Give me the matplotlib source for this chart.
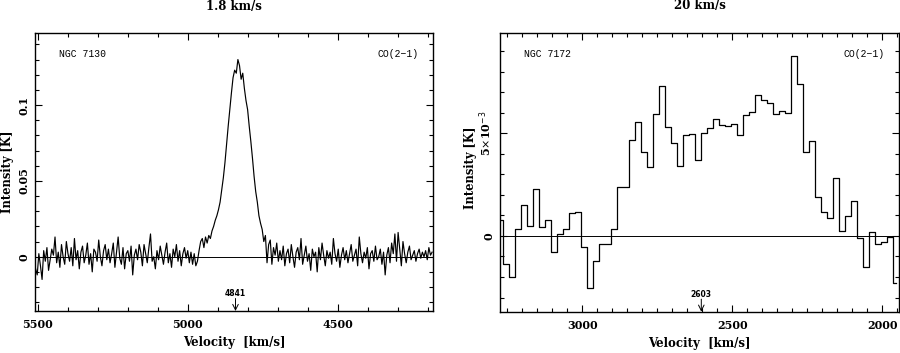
import numpy as np
import matplotlib
matplotlib.use("Agg")
import matplotlib.pyplot as plt
from matplotlib.ticker import MultipleLocator, FixedLocator, FixedFormatter

# ---------------- data ----------------
# NGC 7130, CO(2-1): intensity in mK, sampled every 5.4 km/s from 5508 km/s downward
v7130_start = 5508.0
v7130_step = -5.4
t7130_mK = [
    -8, -12, 2, -6, -15, 4, -3, 6, -9, -2,
    5, 1, 13, -4, 3, -7, 8, 0, -5, 10,
    2, -3, 6, -6, 12, -2, 4, -8, 3, 7,
    -4, 1, 9, -5, 2, -10, 5, 3, -3, 11,
    0, -6, 4, 8, -2, 5, -4, 2, 9, -7,
    3, 13, -1, -5, 6, -8, 2, 4, -3, 7,
    -12, 1, 5, -2, 8, 3, -6, 8, 2, -4,
    6, 15, -3, 0, -8, 4, -2, 7, 1, -5,
    3, 9, -4, 2, -7, 5, 0, 8, -3, 4,
    -6, 2, 6, -1, 4, -4, 3, -5, 2, -6,
    -3,
    4, 10, 12, 6, 13, 9, 14, 12, 17, 20,
    24, 27, 31, 36, 44, 52, 62, 74, 86, 97,
    108, 118, 123, 121, 130, 126, 117, 121, 111, 103,
    97, 86, 76, 65, 53, 43, 36, 27, 22, 18,
    10, 14, -4, 8,
    11, -5, 6, 1, 9, -3, 4, -2, 7, -6,
    2, 5, -4, 8, 0, -7, 3, 6, -2, 12,
    -5, 1, 7, -3, 2, -9, 5, 0, 3, -10,
    6, -2, 9, 1, -6, 4, -1, 3, -5, 12,
    2, -3, 5, -7, 1, 6, -2, 4, -4, 2,
    8, -3, 1, 5, -6, 13, 2, -4, 3, -1,
    6, -8, 2, 4, -3, 7, -2, 0, 5, -5,
    3, -12, 1, 6, -4, 9, 2, 15, -3, 16,
    5, -6, 10, 2, -4, 3, 7, -2, 1, 4,
    -3, 2, 5, -1, 3, 0, 4, -2, 6, 1, 3,
]

# NGC 7172, CO(2-1): 20 km/s channels, intensity in units of 1e-3 K
v7172_start = 3273.0
v7172_step = -20.0
t7172_mK = [
    0.78, -1.38, -2.0, 0.34, 1.49, 0.47, 2.3, 0.42, 0.76, -0.8,
    0.08, 0.32, 1.14, 1.15, -0.52, -2.53, -1.2, -0.39, -0.39, 0.36,
    2.37, 2.37, 4.66, 5.54, 4.07, 3.34, 5.93, 7.3, 5.31, 4.51,
    3.41, 4.9, 4.95, 3.69, 5.03, 5.26, 5.68, 5.39, 5.36, 5.47,
    4.9, 5.88, 6.02, 6.88, 6.62, 6.46, 5.93, 6.07, 6.0, 8.77,
    7.39, 4.09, 4.63, 1.92, 1.17, 0.88, 2.82, 0.24, 0.96, 1.7,
    -0.1, -1.53, 0.19, -0.39, -0.31, -0.06, -2.27,
]

titles = ["1.8 km/s", "20 km/s"]
names = ["NGC 7130", "NGC 7172"]
line_name = "CO(2\u22121)"
vsys = [4841, 2603]

# ---------------- plotting ----------------
fig = plt.figure(figsize=(9.0, 3.53), dpi=100)
ax1 = fig.add_axes([35/900, 1-311/353, 398/900, 278/353])
ax2 = fig.add_axes([500/900, 1-311.7/353, 399/900, 279/353])

bold = dict(family="DejaVu Serif", weight="bold")

v1 = v7130_start + v7130_step*np.arange(len(t7130_mK))
y1 = np.array(t7130_mK)/1000.0
v2 = v7172_start + v7172_step*np.arange(len(t7172_mK))
y2 = np.array(t7172_mK)/1000.0

ax1.plot(v1, y1, color="black", lw=0.85)
ax2.plot(v2, y2, drawstyle="steps-mid", color="black", lw=0.9)

ax1.set_xlim(5510, 4182)
ax1.set_ylim(-0.0358, 0.1475)
ax2.set_xlim(3274, 1944)
ax2.set_ylim(-3.69e-3, 9.9e-3)

for ax in (ax1, ax2):
    ax.axhline(0, color="black", lw=0.7)
    ax.tick_params(which="both", direction="in", top=True, right=True,
                   width=0.8)
    ax.tick_params(which="major", length=5)
    ax.tick_params(which="minor", length=3)
    for s in ax.spines.values():
        s.set_linewidth(1.0)
    ax.set_xlabel("Velocity  [km/s]", fontsize=8.5, labelpad=4, **bold)
    ax.set_ylabel("Intensity [K]", fontsize=8.3, **bold)

ax1.yaxis.set_label_coords(-0.052, 0.5)
ax2.yaxis.set_label_coords(-0.058, 0.515)

# axis ticks
ax1.xaxis.set_major_locator(FixedLocator([5500, 5000, 4500]))
ax1.xaxis.set_minor_locator(MultipleLocator(100))
ax1.yaxis.set_major_locator(FixedLocator([0, 0.05, 0.1]))
ax1.yaxis.set_major_formatter(FixedFormatter(["0", "0.05", "0.1"]))
ax1.yaxis.set_minor_locator(MultipleLocator(0.01))

ax2.xaxis.set_major_locator(FixedLocator([3000, 2500, 2000]))
ax2.xaxis.set_minor_locator(MultipleLocator(50))
ax2.yaxis.set_major_locator(FixedLocator([0, 5e-3]))
ax2.yaxis.set_major_formatter(FixedFormatter(["0", r"5$\times$10$^{-3}$"]))
ax2.yaxis.set_minor_locator(MultipleLocator(1e-3))

for ax in (ax1, ax2):
    for lab in ax.get_xticklabels():
        lab.set_fontsize(8)
        lab.set_fontfamily("DejaVu Serif")
        lab.set_fontweight("bold")
    for lab in ax.get_yticklabels():
        lab.set_fontsize(8)
        lab.set_fontfamily("DejaVu Serif")
        lab.set_fontweight("bold")
        lab.set_rotation(90)
        lab.set_va("center")
    ax.tick_params(axis="x", pad=6)
    ax.tick_params(axis="y", pad=4)

for ax, t, nm, vs in zip((ax1, ax2), titles, names, vsys):
    ax.text(0.5, 1.0 + 27/279, t, transform=ax.transAxes, ha="center",
            va="center", fontsize=8.5, **bold)
    ax.text(0.06, 0.925, nm, transform=ax.transAxes, ha="left", va="center",
            fontsize=7, family="Liberation Mono")
    ax.text(0.965, 0.925, line_name, transform=ax.transAxes, ha="right",
            va="center", fontsize=7, family="Liberation Mono")
    ax.annotate("", xy=(vs, 0.0), xycoords=("data", "axes fraction"),
                xytext=(vs, 0.045), textcoords=("data", "axes fraction"),
                arrowprops=dict(arrowstyle="->", lw=0.7, color="black",
                                shrinkA=0, shrinkB=0))
    ax.text(vs, 0.062, str(vs), transform=ax.get_xaxis_transform(),
            ha="center", va="center", fontsize=5.5, family="DejaVu Sans",
            weight="bold")

fig.savefig("out.png", dpi=100)
